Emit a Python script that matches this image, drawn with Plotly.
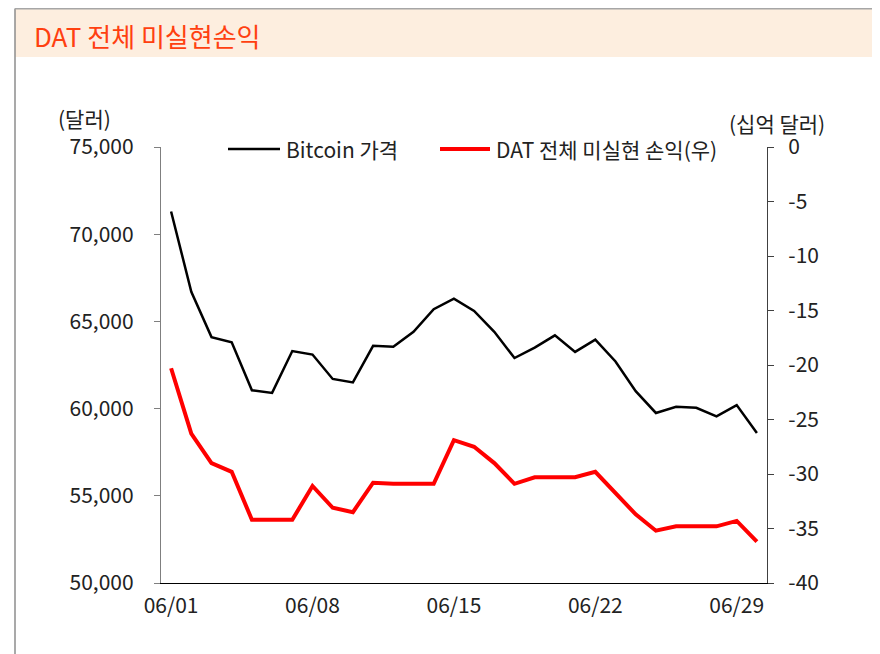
import plotly.graph_objects as go

# ---- data ----
days = list(range(1, 31))
label_days = [1, 8, 15, 22, 29]
date_labels = ["06/01", "06/08", "06/15", "06/22", "06/29"]
btc_price = [71300, 66700, 64100, 63800, 61050, 60900, 63300, 63100, 61700, 61500,
             63600, 63550, 64400, 65700, 66300, 65600, 64400, 62900, 63500, 64200,
             63250, 63950, 62700, 61000, 59750, 60100, 60050, 59550, 60200, 58600]
dat_unrealized = [-20.3, -26.3, -29.0, -29.8, -34.2, -34.2, -34.2, -31.1, -33.1, -33.5,
                  -30.8, -30.9, -30.9, -30.9, -26.9, -27.5, -29.0, -30.9, -30.3, -30.3,
                  -30.3, -29.8, -31.7, -33.7, -35.2, -34.8, -34.8, -34.8, -34.3, -36.2]
left_ticks = [50000, 55000, 60000, 65000, 70000, 75000]
right_ticks = [-40, -35, -30, -25, -20, -15, -10, -5, 0]
right_tick_text = ["-40", "-35", "-30", "-25", "-20", "-15", "-10", "-5", "0"]
boundary_ticks = [0.5, 7.5, 14.5, 21.5, 28.5]
series_names = ["Bitcoin 가격", "DAT 전체 미실현 손익(우)"]
series_colors = ["#000000", "#FF0000"]

W, H = 880, 654
OFF = 8  # page body margin in the screenshot
# plot area in screen pixels
L, R, T, B = 161, 767, 147, 583


def px(x):
    return (x - L) / (R - L)


def py(y):
    return (B - y) / (B - T)


FONT = "Noto Sans CJK KR, Noto Sans, sans-serif"
FS = 21

fig = go.Figure()
fig.add_trace(go.Scatter(x=days, y=btc_price, name=series_names[0], mode="lines",
                         line=dict(color=series_colors[0], width=2.5), yaxis="y",
                         showlegend=False))
fig.add_trace(go.Scatter(x=days, y=dat_unrealized, name=series_names[1], mode="lines",
                         line=dict(color=series_colors[1], width=4), yaxis="y2",
                         showlegend=False))

shapes = [
    dict(type="rect", xref="paper", yref="paper", x0=px(15), x1=px(878), y0=py(57), y1=py(8),
         fillcolor="#FDEEDF", line=dict(width=0), layer="below"),
    dict(type="line", xref="paper", yref="paper", x0=px(15), x1=px(15), y0=py(670), y1=py(8.5),
         line=dict(color="#8C8C8C", width=1.5)),
    dict(type="line", xref="paper", yref="paper", x0=px(15), x1=px(878), y0=py(8.7), y1=py(8.7),
         line=dict(color="#A6A6A6", width=1.5)),
    dict(type="line", xref="paper", yref="paper", x0=px(878), x1=px(878), y0=py(670), y1=py(8.5),
         line=dict(color="#7F7F7F", width=1.5)),
    # legend keys
    dict(type="line", xref="paper", yref="paper", x0=px(228), x1=px(280), y0=py(149), y1=py(149),
         line=dict(color=series_colors[0], width=2.5)),
    dict(type="line", xref="paper", yref="paper", x0=px(440), x1=px(490), y0=py(149), y1=py(149),
         line=dict(color=series_colors[1], width=4)),
]

annotations = [
    dict(text="DAT 전체 미실현손익", xref="paper", yref="paper", x=px(32), y=py(35),
         xanchor="left", yanchor="middle", showarrow=False,
         font=dict(family=FONT, size=26, color="#FF4010")),
    dict(text="(달러)", xref="paper", yref="paper", x=px(84), y=py(118),
         xanchor="center", yanchor="middle", showarrow=False,
         font=dict(family=FONT, size=FS, color="#222222")),
    dict(text="(십억 달러)", xref="paper", yref="paper", x=px(777), y=py(123),
         xanchor="center", yanchor="middle", showarrow=False,
         font=dict(family=FONT, size=FS, color="#222222")),
    dict(text=series_names[0], xref="paper", yref="paper", x=px(284), y=py(149),
         xanchor="left", yanchor="middle", showarrow=False,
         font=dict(family=FONT, size=FS, color="#222222")),
    dict(text=series_names[1], xref="paper", yref="paper", x=px(494), y=py(149),
         xanchor="left", yanchor="middle", showarrow=False,
         font=dict(family=FONT, size=FS, color="#222222")),
]

fig.update_layout(
    width=W, height=H,
    margin=dict(l=L - OFF, r=W - (R - OFF), t=T - OFF, b=H - (B - OFF), pad=0),
    paper_bgcolor="white", plot_bgcolor="white",
    font=dict(family=FONT, size=FS, color="#222222"),
    showlegend=False,
    shapes=shapes,
    annotations=annotations,
    xaxis=dict(range=[0.5, 30.5], tickvals=label_days, ticktext=date_labels,
               ticks="", showline=True, linecolor="#000000", linewidth=1.3,
               showgrid=False, zeroline=False, ticklabelstandoff=4,
               tickfont=dict(family=FONT, size=FS, color="#222222")),
    xaxis2=dict(range=[0.5, 30.5], overlaying="x", anchor="y", side="bottom",
                tickvals=boundary_ticks, showticklabels=False, ticks="outside",
                ticklen=6, tickwidth=1.3, tickcolor="#7F7F7F",
                showline=False, showgrid=False, zeroline=False),
    yaxis=dict(range=[50000, 75000], tickvals=left_ticks, tickformat=",",
               ticks="outside", ticklen=6, tickcolor="#7F7F7F", tickwidth=1.3,
               showline=True, linecolor="#7F7F7F", linewidth=1.3,
               showgrid=False, zeroline=False, ticklabelstandoff=16,
               tickfont=dict(family=FONT, size=FS, color="#222222")),
    yaxis2=dict(range=[-40, 0], tickvals=right_ticks, ticktext=right_tick_text,
                overlaying="y", side="right", anchor="x",
                ticks="outside", ticklen=6, tickcolor="#404040", tickwidth=1.3,
                showline=True, linecolor="#404040", linewidth=1.3,
                showgrid=False, zeroline=False, ticklabelstandoff=10,
                tickfont=dict(family=FONT, size=FS, color="#222222")),
)

fig.write_html("out.html")
